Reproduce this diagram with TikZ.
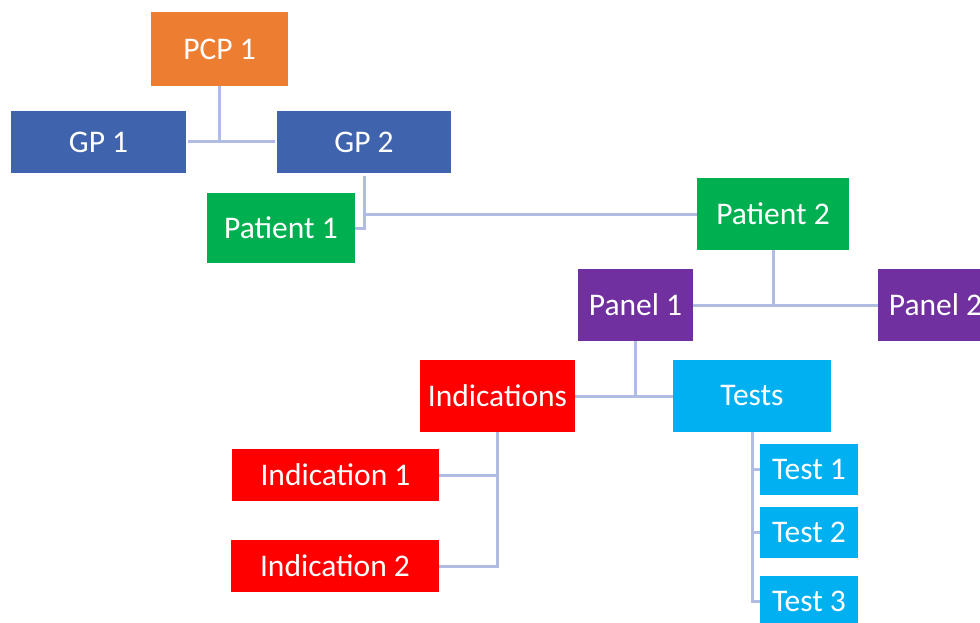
\documentclass[tikz,border=0pt]{standalone}
\usepackage{fontspec}
\setmainfont{Carlito}
\definecolor{corange}{HTML}{ED7D31}
\definecolor{cblue}{HTML}{3F63AD}
\definecolor{cgreen}{HTML}{00B050}
\definecolor{cpurple}{HTML}{7030A0}
\definecolor{cred}{HTML}{FF0000}
\definecolor{ccyan}{HTML}{00B0F0}
\definecolor{cline}{HTML}{B0BCE4}
\tikzset{
  box/.style={rectangle, inner sep=0pt, text=white, font=\fontsize{31.5}{36}\selectfont, anchor=center},
  conn/.style={draw=cline, line width=3pt},
}
\begin{document}
\begin{tikzpicture}[x=1pt,y=-1pt]
\useasboundingbox (0,0) rectangle (980,623);
\clip (0,0) rectangle (980,623);
\fill[white] (0,0) rectangle (980,623);
% nodes
\node[box, fill=corange, minimum width=137pt, minimum height=74pt] (pcp) at (219.5,49) {PCP 1};
\node[box, fill=cblue, minimum width=175pt, minimum height=62pt] (gp1) at (98.5,142) {GP 1};
\node[box, fill=cblue, minimum width=174pt, minimum height=62pt] (gp2) at (364,142) {GP 2};
\node[box, fill=cgreen, minimum width=148pt, minimum height=70pt] (pat1) at (281,228) {Patient 1};
\node[box, fill=cgreen, minimum width=152pt, minimum height=72pt] (pat2) at (773,214) {Patient 2};
\node[box, fill=cpurple, minimum width=115pt, minimum height=72pt] (pan1) at (635.5,305) {Panel 1};
\node[box, fill=cpurple, minimum width=115pt, minimum height=72pt] (pan2) at (935.5,305) {Panel 2};
\node[box, fill=cred, minimum width=155pt, minimum height=72pt] (ind) at (497.5,396) {Indications};
\node[box, fill=ccyan, minimum width=158pt, minimum height=72pt] (tests) at (752,396) {Tests};
\node[box, fill=cred, minimum width=207pt, minimum height=52pt] (ind1) at (335.5,475) {Indication 1};
\node[box, fill=cred, minimum width=208pt, minimum height=52pt] (ind2) at (335,566) {Indication 2};
\node[box, fill=ccyan, minimum width=98pt, minimum height=51pt] (t1) at (809,469.5) {Test 1};
\node[box, fill=ccyan, minimum width=98pt, minimum height=51pt] (t2) at (809,532.5) {Test 2};
\node[box, fill=ccyan, minimum width=98pt, minimum height=51pt] (t3) at (809,601.5) {Test 3};
% connectors
\draw[conn] (pcp.south) -- (pcp.south |- gp1.east);
\draw[conn, shorten <=2pt, shorten >=2pt] (gp1.east) -- (gp2.west);
\draw[conn, shorten <=3pt] (gp2.south) -- (gp2.south |- pat1.east) -- (pat1.east);
\draw[conn] (gp2.south |- pat2.west) -- (pat2.west);
\draw[conn] (pat2.south) -- (pat2.south |- pan1.east);
\draw[conn] (pan1.east) -- (pan2.west);
\draw[conn] (pan1.south) -- (pan1.south |- ind.east);
\draw[conn] (ind.east) -- (tests.west);
\draw[conn] (ind.south) -- (ind.south |- ind2.east) -- (ind2.east);
\draw[conn] (ind1.east) -- (ind.south |- ind1.east);
\draw[conn] (tests.south) -- (tests.south |- t3.west) -- (t3.west);
\draw[conn] (t1.west) -- (tests.south |- t1.west);
\draw[conn] (t2.west) -- (tests.south |- t2.west);
\end{tikzpicture}
\end{document}
